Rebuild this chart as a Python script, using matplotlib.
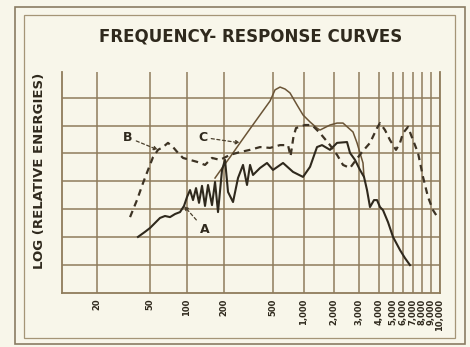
"""Frequency-response curves, redrawn from an old printed chart."""
import numpy as np
import matplotlib
matplotlib.use("Agg")
import matplotlib.pyplot as plt
from matplotlib.patches import Rectangle
from matplotlib.scale import FuncScale

# ---------------------------------------------------------------------------
# Data
# ---------------------------------------------------------------------------
tick_freqs = [20, 50, 100, 200, 500, 1000, 2000, 3000, 4000, 5000,
              6000, 7000, 8000, 9000, 10000]
tick_labels = ["20", "50", "100", "200", "500", "1,000", "2,000", "3,000",
               "4,000", "5,000", "6,000", "7,000", "8,000", "9,000", "10,000"]

# curve A (solid, lower wiggly one)
a_freq = [40.6, 45.8, 50, 54.9, 60.3, 66.2, 72.7, 79.9, 87.7, 94.5, 100, 105.8,
          111.9, 118.4, 125.2, 132.4, 140.1, 148.2, 159.7, 169, 178.7, 192.7,
          203.8, 215.6, 236.7, 259.8, 285.3, 307.5, 325.3, 344.0, 392.2, 446.9,
          500, 625.5, 782, 978, 1149, 1350, 1516, 1824, 2101, 2470, 2593, 2811,
          3043, 3224, 3366, 3514, 3723, 3887, 4064, 4263, 4617, 5000, 5681,
          6186, 6683]
a_level = [2.01, 2.19, 2.33, 2.51, 2.69, 2.76, 2.72, 2.83, 2.90, 3.12, 3.44, 3.69,
           3.33, 3.76, 3.23, 3.84, 3.12, 3.87, 3.15, 3.98, 2.90, 4.41,
           4.77, 3.62, 3.26, 4.12, 4.59, 3.87, 4.59, 4.23, 4.48, 4.66,
           4.41, 4.66, 4.34, 4.16, 4.52, 5.23, 5.30, 5.13, 5.38, 5.41, 5.02, 4.77,
           4.41, 4.16, 3.69, 3.08, 3.33, 3.33, 3.08, 2.97, 2.54, 2.01, 1.54,
           1.25, 1.00]

# curve B (dashed)
b_freq = [35.4, 39.9, 44.3, 48.3, 52.9, 58.1, 63.8, 70.0, 76.9, 84.5, 92.8,
          105.8, 120.6, 140.1, 159.7, 185.6, 223.7, 269.7, 325.3, 392.2, 472.8,
          584.8, 699.2, 740, 790, 836, 1023, 1203, 1447, 1824, 2101, 2314, 2593,
          2858, 3132, 3514, 3887, 4064, 4401, 4767, 5281, 5681, 6000, 6479,
          7000, 7541, 8106, 8654, 9213, 9772]
b_level = [2.72, 3.33, 3.94, 4.41, 4.87, 5.13, 5.23, 5.38, 5.23, 5.02, 4.84,
           4.77, 4.70, 4.59, 4.84, 4.77, 4.95, 5.05, 5.13, 5.23, 5.20,
           5.30, 5.30, 4.90, 5.60, 5.91, 6.02, 6.02, 5.73, 5.30, 4.95, 4.59, 4.48,
           4.77, 5.05, 5.38, 5.91, 6.09, 5.84, 5.48, 5.13, 5.38, 5.73, 5.95,
           5.48, 5.02, 4.16, 3.44, 2.97, 2.69]

# curve C (thin solid, big peak near 600 c/s)
c_freq = [169, 193, 224, 270, 325, 392, 473, 523, 585, 654, 731, 855, 978,
          1149, 1350, 1447, 1824, 2101, 2314, 2722, 2905, 3043, 3177, 3224]
c_level = [4.12, 4.48, 4.87, 5.38, 5.88, 6.38, 6.88, 7.28, 7.38, 7.31, 7.17,
           6.74, 6.38, 6.13, 5.91, 5.84, 6.02, 6.09, 6.09, 5.77, 5.38, 5.02,
           4.66, 4.16]

# ---------------------------------------------------------------------------
# Layout / style
# ---------------------------------------------------------------------------
PAPER = "#f8f6ea"
GRID = "#8f7c5c"
INK = "#2f291d"
CURVE_C = "#6a5436"

# hand-drawn frequency scale: position of each ruled line along the axis
scale_freqs = [10] + tick_freqs
scale_pos = [57, 97, 150, 187, 224, 273, 304, 334, 359, 379, 393, 403, 413,
             422, 431, 440]
log_f = np.log10(scale_freqs)


def fwd(f):
    f = np.clip(np.asarray(f, dtype=float), 1e-3, None)
    return np.interp(np.log10(f), log_f, scale_pos)


def inv(p):
    return 10 ** np.interp(p, scale_pos, log_f)


fig = plt.figure(figsize=(4.7, 3.47), dpi=100, facecolor=PAPER)
ax = fig.add_axes([62 / 470, 1 - 293 / 347, (440 - 62) / 470, (293 - 72) / 347])
ax.set_facecolor(PAPER)
ax.set_xscale(FuncScale(ax.xaxis, (fwd, inv)))
ax.set_xlim(10.9, 10000)
ax.set_ylim(0, 7.92)

# ruled grid
for f in tick_freqs:
    ax.axvline(f, color=GRID, lw=1.1, zorder=1)
for y in range(1, 8):
    ax.axhline(y, color=GRID, lw=1.1, zorder=1)

for side in ("top",):
    ax.spines[side].set_visible(False)
for side in ("left", "bottom", "right"):
    ax.spines[side].set_color(GRID)
    ax.spines[side].set_linewidth(1.3)

ax.set_xticks(tick_freqs)
ax.set_xticklabels(tick_labels, rotation=90, fontsize=6, fontweight="bold",
                   color=INK, va="top")
ax.xaxis.set_minor_locator(matplotlib.ticker.NullLocator())
ax.tick_params(axis="x", length=0, pad=4)
ax.set_yticks([])

# curves
ax.plot(c_freq, c_level, color=CURVE_C, lw=1.1, zorder=3)
ax.plot(a_freq, a_level, color=INK, lw=1.5, zorder=4)
ax.plot(b_freq, b_level, color="#3d3324", lw=1.6, ls=(0, (3.0, 2.2)), zorder=5)

arrow = dict(arrowstyle="-|>", ls=(0, (2.5, 2)), lw=0.9, color="#4a3f2c",
             mutation_scale=6, shrinkA=1, shrinkB=0)
lbl = dict(fontsize=9, fontweight="bold", color=INK, ha="center", va="center")
ax.annotate("B", xy=(b_freq[5], b_level[5]), xytext=(-22, 9),
            textcoords="offset points", arrowprops=arrow, **lbl)
ax.annotate("C", xy=(c_freq[3], c_level[3]), xytext=(-27, 4),
            textcoords="offset points", arrowprops=arrow, **lbl)
ax.annotate("A", xy=(a_freq[9], a_level[9]), xytext=(15, -17),
            textcoords="offset points", arrowprops=arrow, **lbl)

# titles
fig.text(251 / 470, 1 - 36 / 347, "FREQUENCY- RESPONSE CURVES", fontsize=12,
         fontweight="bold", color=INK, ha="center", va="center")
fig.text(40 / 470, 1 - 171 / 347, "LOG (RELATIVE ENERGIES)", fontsize=9.5,
         fontweight="bold", color=INK, ha="center", va="center", rotation=90)

# double border of the printed plate
fig.patches.append(Rectangle((15 / 470, 1 - 344 / 347), 450 / 470, 337 / 347,
                             transform=fig.transFigure, fill=False,
                             ec="#8a7c63", lw=1.2))
fig.patches.append(Rectangle((24 / 470, 1 - 338 / 347), 431 / 470, 323 / 347,
                             transform=fig.transFigure, fill=False,
                             ec="#a59577", lw=0.9))

fig.savefig("out.png", dpi=100, facecolor=PAPER)
